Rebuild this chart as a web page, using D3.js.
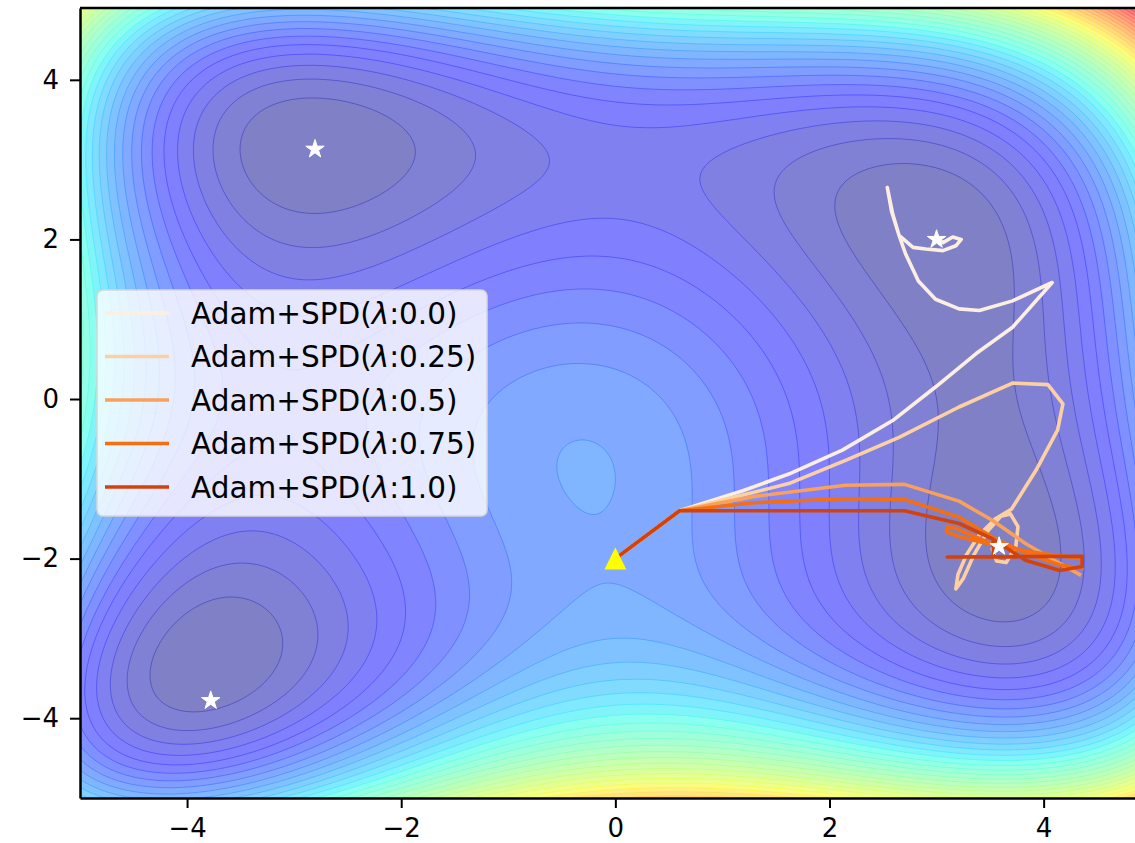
<!DOCTYPE html>
<html>
<head>
<meta charset="utf-8">
<script src="https://d3js.org/d3.v7.min.js"></script>
<style>
    body { margin: 0; background: #fff; }
    text { font-family: "DejaVu Sans", sans-serif; }
    .axis path, .axis line { stroke: #000; }
</style>
</head>
<body>
<svg id="chart"></svg>
<script>
    // ---- data
    const xTicks = [-4, -2, 0, 2, 4];
    const yTicks = [-4, -2, 0, 2, 4];
    const minima = [[-2.805, 3.131], [3.0, 2.0], [3.584, -1.848], [-3.779, -3.779]];
    const startPoint = [0, -2];
    const lambdas = ['0.0', '0.25', '0.5', '0.75', '1.0'];

    const path00 = [[0,-2],[0.6,-1.4],[1.19,-1.15],[1.62,-0.94],[2.12,-0.64],[2.59,-0.27],[2.99,0.15],[3.37,0.57],[3.71,0.9],[4.08,1.46],[3.71,1.23],[3.4,1.11],[3.21,1.13],[2.99,1.25],[2.83,1.48],[2.71,1.82],[2.65,2.05],[2.59,2.32],[2.54,2.65],[2.58,2.35],[2.65,2.05],[2.78,1.9],[2.9,1.88],[3.06,1.86],[3.18,1.92],[3.23,2.0],[3.15,2.03],[3.06,1.96],[3.0,2.0]];
    const path025 = [[0,-2],[0.6,-1.4],[1.2,-1.2],[1.62,-1.06],[2.15,-0.77],[2.65,-0.48],[3.21,-0.1],[3.71,0.2],[4.04,0.18],[4.18,-0.06],[4.13,-0.39],[3.93,-0.89],[3.7,-1.38],[3.55,-1.5],[3.4,-1.7],[3.28,-1.95],[3.2,-2.2],[3.18,-2.38],[3.25,-2.25],[3.35,-1.95],[3.48,-1.65],[3.6,-1.47],[3.69,-1.44],[3.76,-1.6],[3.74,-1.85],[3.65,-2.05],[3.56,-2.03],[3.52,-1.88],[3.58,-1.85]];
    const path05 = [[0,-2],[0.6,-1.4],[1.3,-1.22],[2.15,-1.08],[2.7,-1.07],[3.21,-1.28],[3.52,-1.52],[3.83,-1.81],[4.1,-2.02],[4.35,-2.21]];
    const path075 = [[0,-2],[0.6,-1.4],[1.3,-1.3],[2.15,-1.25],[2.7,-1.26],[3.21,-1.48],[3.52,-1.73],[3.83,-1.93],[4.15,-2.08],[4.36,-2.12],[4.36,-2.0],[3.9,-1.92],[3.5,-1.82],[3.2,-1.72],[3.09,-1.66],[3.1,-1.6],[3.18,-1.62],[3.35,-1.72],[3.58,-1.85]];
    const path10 = [[0,-2],[0.6,-1.4],[2.7,-1.4],[3.21,-1.56],[3.52,-1.75],[3.83,-2.02],[4.15,-2.15],[4.36,-2.1],[4.36,-1.97],[3.1,-1.98],[3.53,-1.98],[3.53,-1.76]];
    const paths = [path00, path025, path05, path075, path10];
    const pathColors = ['#fcefe2', '#fdd0a4', '#f9a05a', '#f56e12', '#d4420b'];

    // contour field (Himmelblau function) and its levels
    function himmelblau(x, y) {
        return Math.pow(x * x + y - 11, 2) + Math.pow(x + y * y - 7, 2);
    }
    const levels = d3.range(0, 901, 20);
    const levelMax = 820;

    // ---- layout
    const width = 1135, height = 843;
    const plot = { left: 80, top: 8, right: 1140, bottom: 798 };

    const svg = d3.select('#chart').attr('width', width).attr('height', height);

    const xScale = d3.scaleLinear().domain([-5, 4.9]).range([plot.left, plot.right]);
    const yScale = d3.scaleLinear().domain([-5, 4.9]).range([plot.bottom, plot.top]);

    // matplotlib jet, blended with white (alpha 0.5)
    function jet(t, alpha) {
        t = Math.max(0, Math.min(1, t));
        function seg(pts) {
            for (let i = 1; i < pts.length; i++) {
                if (t <= pts[i][0]) {
                    let a = pts[i - 1], b = pts[i];
                    return a[1] + (b[1] - a[1]) * (t - a[0]) / (b[0] - a[0]);
                }
            }
            return pts[pts.length - 1][1];
        }
        let r = seg([[0,0],[0.35,0],[0.66,1],[0.89,1],[1,0.5]]);
        let g = seg([[0,0],[0.125,0],[0.375,1],[0.64,1],[0.91,0],[1,0]]);
        let b = seg([[0,0.5],[0.11,1],[0.34,1],[0.65,0],[1,0]]);
        let k = v => 255 * (v * alpha + (1 - alpha));
        return d3.rgb(k(r), k(g), k(b)).formatHex();
    }

    svg.append('defs').append('clipPath').attr('id', 'plotClip')
        .append('rect')
        .attr('x', plot.left).attr('y', plot.top)
        .attr('width', plot.right - plot.left).attr('height', plot.bottom - plot.top);

    // grid a bit larger than the plot, clipped afterwards
    const step = 0.025, g0 = -5.1, g1 = 5.0;
    const n = Math.round((g1 - g0) / step) + 1;
    const values = new Float64Array(n * n);
    for (let j = 0; j < n; j++) {
        for (let i = 0; i < n; i++) {
            values[j * n + i] = himmelblau(g0 + i * step, g0 + j * step);
        }
    }
    const contours = d3.contours().size([n, n]).thresholds(levels)(values);
    const proj = d3.geoTransform({
        point: function(px, py) {
            this.stream.point(xScale(g0 + step * (px - 0.5)), yScale(g0 + step * (py - 0.5)));
        }
    });
    const geoPath = d3.geoPath(proj);

    const field = svg.append('g').attr('clip-path', 'url(#plotClip)');
    field.append('g').selectAll('path')
        .data(contours)
        .join('path')
        .attr('d', geoPath)
        .attr('fill', d => jet((d.value + 10) / levelMax, 0.5))
        .attr('stroke', 'none');

    field.append('g').selectAll('path')
        .data(contours.filter(d => d.value > 0))
        .join('path')
        .attr('d', geoPath)
        .attr('fill', 'none')
        .attr('stroke', d => jet(d.value / levelMax, 1))
        .attr('stroke-opacity', 0.4)
        .attr('stroke-width', 0.8);

    // ---- trajectories
    const line = d3.line().x(d => xScale(d[0])).y(d => yScale(d[1]));
    const traj = svg.append('g').attr('clip-path', 'url(#plotClip)');
    traj.selectAll('path')
        .data(paths)
        .join('path')
        .attr('d', line)
        .attr('fill', 'none')
        .attr('stroke', (d, i) => pathColors[i])
        .attr('stroke-width', 3.6)
        .attr('stroke-linejoin', 'round');

    // minima stars
    traj.selectAll('.star')
        .data(minima)
        .join('path')
        .attr('class', 'star')
        .attr('d', d3.symbol(d3.symbolStar, 105))
        .attr('transform', d => `translate(${xScale(d[0])},${yScale(d[1])})`)
        .attr('fill', '#fff')
        .attr('stroke', '#fff')
        .attr('stroke-width', 1)
        .attr('stroke-linejoin', 'round');

    // start triangle
    traj.append('path')
        .attr('d', 'M0,-11L11,11L-11,11Z')
        .attr('transform', `translate(${xScale(startPoint[0])},${yScale(startPoint[1])})`)
        .attr('fill', '#ffff00');

    // ---- axes
    const axisX = d3.axisBottom(xScale).tickValues(xTicks).tickSize(10).tickSizeOuter(0).tickPadding(11);
    svg.append('g').attr('class', 'axis')
        .attr('transform', `translate(0,${plot.bottom})`)
        .call(axisX);
    const axisY = d3.axisLeft(yScale).tickValues(yTicks).tickSize(10).tickSizeOuter(0).tickPadding(11);
    svg.append('g').attr('class', 'axis')
        .attr('transform', `translate(${plot.left},0)`)
        .call(axisY);
    svg.selectAll('.axis .domain').attr('stroke-width', 2.5);
    svg.selectAll('.axis .tick line').attr('stroke-width', 2);
    svg.selectAll('.axis text').attr('font-size', 26).attr('fill', '#000')
        .style('font-family', '"DejaVu Sans", sans-serif');
    svg.append('line')
        .attr('x1', plot.left).attr('x2', plot.right)
        .attr('y1', plot.top).attr('y2', plot.top)
        .attr('stroke', '#000').attr('stroke-width', 2.5);

    // ---- legend
    const legend = svg.append('g').attr('transform', 'translate(97,290)');
    legend.append('rect')
        .attr('width', 390).attr('height', 226).attr('rx', 6)
        .attr('fill', '#fff').attr('fill-opacity', 0.8)
        .attr('stroke', '#d6d6d6').attr('stroke-width', 1.5);
    const rows = legend.selectAll('.row')
        .data(lambdas)
        .join('g')
        .attr('class', 'row')
        .attr('transform', (d, i) => `translate(0,${23 + i * 43.5})`);
    rows.append('line')
        .attr('x1', 8).attr('x2', 72)
        .attr('stroke', (d, i) => pathColors[i])
        .attr('stroke-width', 3.6);
    const label = rows.append('text')
        .attr('x', 94).attr('dy', '0.36em')
        .attr('font-size', 29.5).attr('fill', '#000');
    label.append('tspan').text('Adam+SPD(');
    label.append('tspan').attr('font-style', 'italic').text('λ');
    label.append('tspan').text(d => ':' + d + ')');
</script>
</body>
</html>
